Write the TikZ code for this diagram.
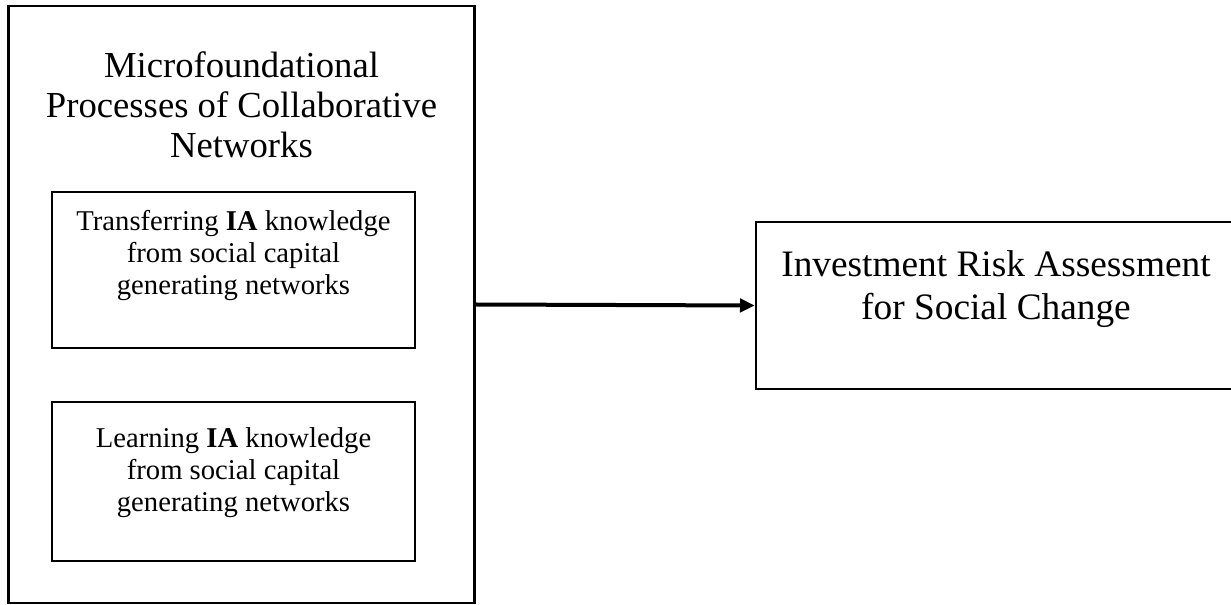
\documentclass[tikz,border=0pt]{standalone}
\usepackage{fontspec}
\setmainfont{Liberation Serif}
\usetikzlibrary{arrows.meta}
\tikzset{
  outerbox/.style={draw, line width=2pt, inner sep=0pt},
  innerbox/.style={draw, line width=1.2pt, inner sep=0pt},
  bigtext/.style={align=center, font=\fontsize{27.5}{30}\selectfont, inner sep=0pt},
  smalltext/.style={align=center, font=\fontsize{21.5}{24}\selectfont, inner sep=0pt},
  righttext/.style={align=center, font=\fontsize{28}{32}\selectfont, inner sep=0pt},
  flowarrow/.style={line width=3pt, -{Triangle[length=11pt,width=10pt]}}
}
\begin{document}
\begin{tikzpicture}[x=0.75pt, y=-0.75pt]
\useasboundingbox (0,0) rectangle (1231,605);
% outer box
\node[outerbox, minimum width=466*0.75pt, minimum height=597*0.75pt] (outer) at (241.5,304.5) {};
\node[bigtext] (title) at (241.5,105) {Microfoundational\\Processes of Collaborative\\Networks};
% inner boxes
\node[innerbox, minimum width=363*0.75pt, minimum height=156*0.75pt] (box1) at (233.5,270) {};
\node[smalltext] (t1) at (233.5,256) {Transferring \textbf{IA} knowledge\\from social capital\\generating networks};
\node[innerbox, minimum width=363*0.75pt, minimum height=159*0.75pt] (box2) at (233.5,481.5) {};
\node[smalltext] (t2) at (233.5,473) {Learning \textbf{IA} knowledge\\from social capital\\generating networks};
% right box
\node[outerbox, minimum width=490*0.75pt, minimum height=167*0.75pt] (right) at (1001,305.5) {};
\node[righttext] (rt) at (996,289) {Investment Risk Assessment\\for Social Change};
% arrow
\draw[flowarrow] (outer.east) -- (right.west);
\end{tikzpicture}
\end{document}
